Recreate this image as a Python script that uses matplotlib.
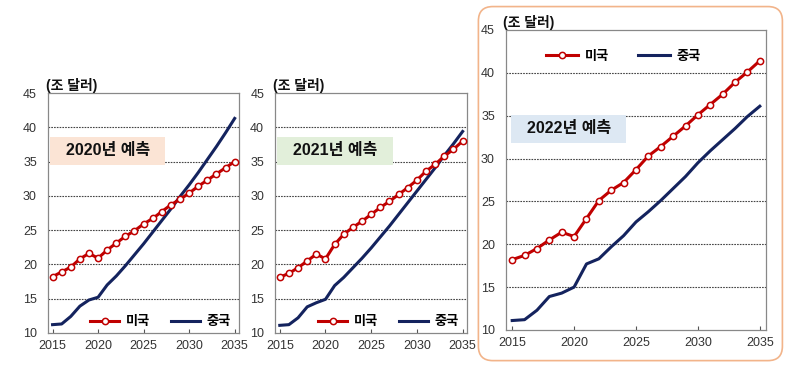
import matplotlib.pyplot as plt
from matplotlib.patches import FancyBboxPatch

plt.rcParams['font.family'] = ['Liberation Sans', 'Noto Sans CJK KR']

years = list(range(2015, 2036))

# 2020 forecast
us_2020 = [18.2, 18.9, 19.6, 20.8, 21.6, 20.9, 22.1, 23.1, 24.1, 24.9, 25.9,
           26.7, 27.7, 28.7, 29.5, 30.4, 31.4, 32.3, 33.2, 34.1, 35.0]
cn_2020 = [11.2, 11.3, 12.4, 13.9, 14.8, 15.2, 17.0, 18.3, 19.8, 21.4, 23.0,
           24.7, 26.4, 28.1, 29.9, 31.6, 33.4, 35.3, 37.2, 39.2, 41.3]

# 2021 forecast
us_2021 = [18.1, 18.7, 19.5, 20.5, 21.5, 20.8, 22.9, 24.4, 25.4, 26.3, 27.3,
           28.3, 29.2, 30.2, 31.2, 32.3, 33.6, 34.6, 35.8, 36.8, 38.0]
cn_2021 = [11.1, 11.2, 12.2, 13.8, 14.4, 14.9, 16.9, 18.1, 19.5, 20.9, 22.4,
           24.0, 25.6, 27.3, 29.0, 30.7, 32.4, 34.1, 35.9, 37.6, 39.4]

# 2022 forecast
us_2022 = [18.2, 18.7, 19.5, 20.5, 21.4, 20.9, 23.0, 25.1, 26.3, 27.2, 28.7,
           30.3, 31.4, 32.6, 33.8, 35.1, 36.3, 37.5, 38.9, 40.1, 41.4]
cn_2022 = [11.1, 11.2, 12.3, 13.9, 14.3, 15.0, 17.7, 18.3, 19.7, 21.0, 22.6,
           23.8, 25.1, 26.5, 27.9, 29.5, 30.9, 32.2, 33.5, 34.9, 36.1]

labels = ['2020년 예측', '2021년 예측', '2022년 예측']
label_colors = ['#fbe4d5', '#e2efda', '#dde8f3']
series_names = ['미국', '중국']

red = '#c00000'
navy = '#14235e'

fig = plt.figure(figsize=(8, 3.65), dpi=100)

# orange rounded frame around the 2022 panel
frame = FancyBboxPatch((0.598, 0.012), 0.38, 0.97, transform=fig.transFigure,
                       boxstyle='round,pad=0,rounding_size=0.018',
                       facecolor='none', edgecolor='#f2b48a', linewidth=1.2,
                       mutation_aspect=800 / 365)
fig.patches.append(frame)

panels = [
    ([0.060, 0.088, 0.239, 0.657], us_2020, cn_2020),
    ([0.344, 0.088, 0.240, 0.657], us_2021, cn_2021),
    ([0.6325, 0.096, 0.325, 0.822], us_2022, cn_2022),
]
label_pos = [(0.045, 0.76), (0.045, 0.76), (0.045, 0.67)]

for i, (rect, us, cn) in enumerate(panels):
    ax = fig.add_axes(rect)
    ax.plot(years, us, color=red, linewidth=2.2, marker='o', markersize=4.5,
            markerfacecolor='white', markeredgecolor=red, markeredgewidth=1.1,
            label=series_names[0], zorder=4)
    ax.plot(years, cn, color=navy, linewidth=2.2, label=series_names[1], zorder=3)

    ax.set_xlim(2014.5, 2035.5)
    ax.set_ylim(10, 45)
    ax.set_xticks(range(2015, 2036, 5))
    ax.set_yticks(range(10, 46, 5))
    ax.tick_params(axis='x', direction='in', length=3, color='#555555',
                   labelsize=9, labelcolor='#333333', pad=5)
    ax.tick_params(axis='y', length=0, labelsize=9, labelcolor='#333333', pad=8)
    for y in range(15, 45, 5):
        ax.axhline(y, color='#444444', linestyle=(0, (1.5, 1)), linewidth=0.8, zorder=1)
    for s in ax.spines.values():
        s.set_color('#888888')
        s.set_linewidth(0.9)

    ax.text(-0.01, 1.0, '(조 달러)', transform=ax.transAxes, ha='left', va='bottom',
            fontsize=10, fontweight='heavy', color='#111111')

    lx, ly = label_pos[i]
    ax.text(lx, ly, '  ' + labels[i] + '  ', transform=ax.transAxes, ha='left',
            va='center', fontsize=11.5, fontweight='heavy', color='#111111',
            bbox=dict(boxstyle='square,pad=0.4', facecolor=label_colors[i],
                      edgecolor='none'), zorder=5)

    if i < 2:
        leg = ax.legend(loc='lower right', bbox_to_anchor=(1.02, -0.03), ncol=2,
                        frameon=False, handlelength=2.2, columnspacing=1.6,
                        handletextpad=0.5, prop={'weight': 'heavy', 'size': 9.5})
    else:
        leg = ax.legend(loc='upper left', bbox_to_anchor=(0.11, 0.97), ncol=2,
                        frameon=False, handlelength=2.4, columnspacing=2.2,
                        handletextpad=0.5, prop={'weight': 'heavy', 'size': 9.5})

fig.savefig('out.png', dpi=100)
